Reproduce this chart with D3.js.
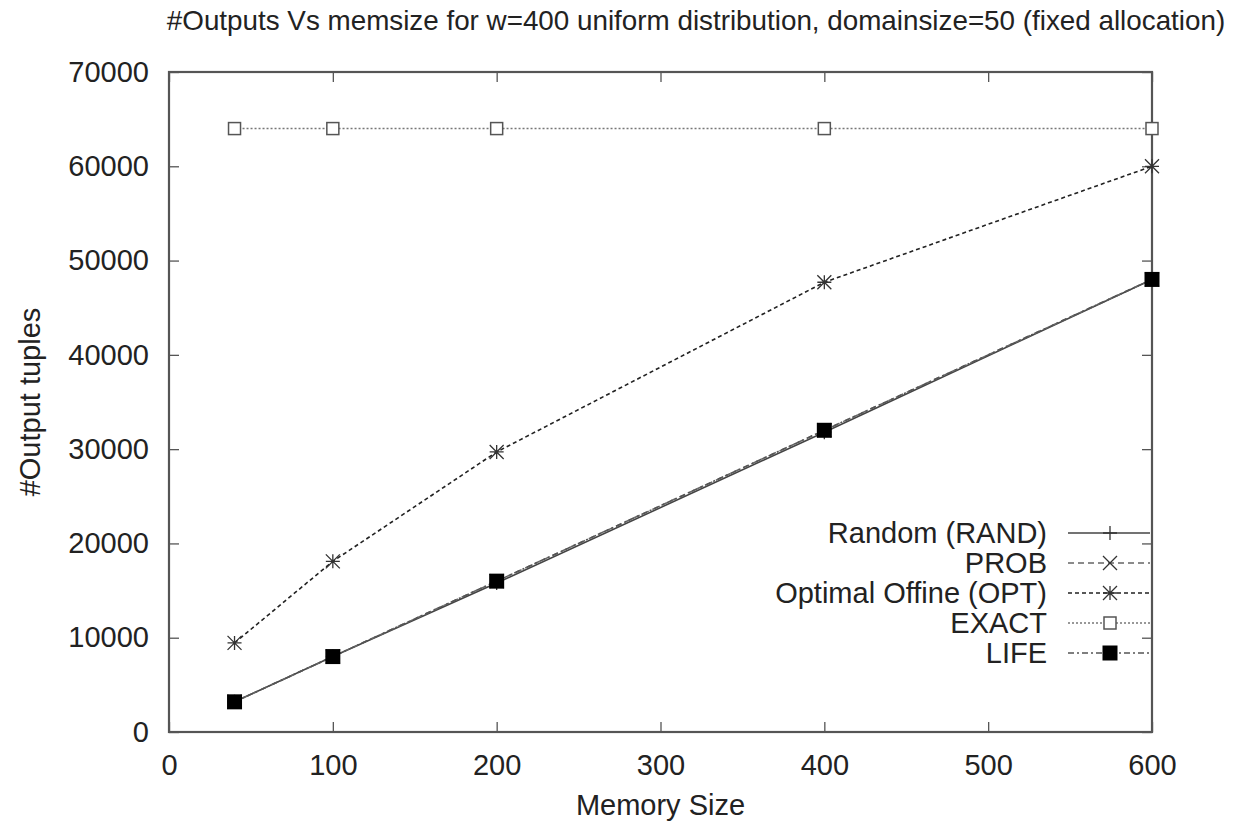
<!DOCTYPE html>
<html>
<head>
<meta charset="utf-8">
<script src="https://cdn.jsdelivr.net/npm/d3@7"></script>
<style>
  body { margin: 0; background: #fff; }
  svg text { font-family: "Liberation Sans", Arial, Helvetica, sans-serif; fill: #222; }
</style>
</head>
<body>
<div class="content"></div>
<script>
(function() {

  // Data
  var memSizes = [40, 100, 200, 400, 600];
  var randValues = [3200, 8000, 15800, 31800, 48000];
  var probValues = [3200, 8000, 16000, 32000, 48000];
  var optValues = [9450, 18100, 29700, 47700, 60000];
  var exactValues = [64000, 64000, 64000, 64000, 64000];
  var lifeValues = [3200, 8000, 16000, 32000, 48000];

  var seriesNames = ['Random (RAND)', 'PROB', 'Optimal Offine (OPT)', 'EXACT', 'LIFE'];
  var xTicks = [0, 100, 200, 300, 400, 500, 600];
  var yTicks = [0, 10000, 20000, 30000, 40000, 50000, 60000, 70000];

  var titleText = '#Outputs Vs memsize for w=400 uniform distribution, domainsize=50 (fixed allocation)';

  // Design Variables
  var width = 1237;
  var height = 822;
  var margin = {top: 72, right: 85, bottom: 90, left: 169};
  var tickLen = 10;

  var styles = [
    {dash: null, color: '#444', marker: 'plus'},
    {dash: '6,4', color: '#666', marker: 'cross'},
    {dash: '4,3', color: '#222', marker: 'star'},
    {dash: '2,2', color: '#777', marker: 'square'},
    {dash: '6,3,2,3', color: '#555', marker: 'filled'}
  ];

  var series = [randValues, probValues, optValues, exactValues, lifeValues].map(function(vals, i) {
    return {
      name: seriesNames[i],
      style: styles[i],
      points: memSizes.map(function(m, j) { return {x: m, y: vals[j]}; })
    };
  });

  // Scales
  var x = d3.scaleLinear()
    .domain([0, 600])
    .range([margin.left, width - margin.right]);

  var y = d3.scaleLinear()
    .domain([0, 70000])
    .range([height - margin.bottom, margin.top]);

  var svg = d3.select(".content").append("svg")
    .attr("width", width)
    .attr("height", height);

  // Title
  svg.append("text")
    .attr("x", 696)
    .attr("y", 30)
    .attr("text-anchor", "middle")
    .style("font-size", "27.8px")
    .text(titleText);

  // Axes with inward ticks
  var axisColor = '#555';

  var bottomAxis = svg.append("g")
    .attr("transform", "translate(0," + y(0) + ")")
    .call(d3.axisBottom(x).tickValues(xTicks).tickSize(-tickLen).tickPadding(tickLen + 12));

  var topAxis = svg.append("g")
    .attr("transform", "translate(0," + y(70000) + ")")
    .call(d3.axisTop(x).tickValues(xTicks).tickSize(-tickLen).tickFormat(""));

  var leftAxis = svg.append("g")
    .attr("transform", "translate(" + x(0) + ",0)")
    .call(d3.axisLeft(y).tickValues(yTicks).tickSize(-tickLen).tickPadding(tickLen + 10).tickFormat(d3.format("d")));

  var rightAxis = svg.append("g")
    .attr("transform", "translate(" + x(600) + ",0)")
    .call(d3.axisRight(y).tickValues(yTicks).tickSize(-tickLen).tickFormat(""));

  [bottomAxis, topAxis, leftAxis, rightAxis].forEach(function(a) {
    a.select(".domain").remove();
    a.selectAll(".tick line").attr("stroke", axisColor).attr("stroke-width", 1.3);
    a.selectAll(".tick text")
      .style("font-size", "29px")
      .style("font-family", '"Liberation Sans", Arial, sans-serif')
      .attr("fill", "#222");
  });

  // Frame
  svg.append("rect")
    .attr("x", x(0))
    .attr("y", y(70000))
    .attr("width", x(600) - x(0))
    .attr("height", y(0) - y(70000))
    .attr("fill", "none")
    .attr("stroke", axisColor)
    .attr("stroke-width", 2.2);

  // Axis labels
  svg.append("text")
    .attr("x", (x(0) + x(600)) / 2)
    .attr("y", 815)
    .attr("text-anchor", "middle")
    .style("font-size", "29px")
    .text("Memory Size");

  svg.append("text")
    .attr("transform", "translate(40," + ((y(0) + y(70000)) / 2) + ") rotate(-90)")
    .attr("text-anchor", "middle")
    .style("font-size", "29px")
    .text("#Output tuples");

  // Markers
  function drawMarker(g, type, cx, cy, color) {
    var s = 7;
    if (type === 'plus') {
      g.append("path")
        .attr("d", "M" + (cx - s) + "," + cy + "H" + (cx + s) + "M" + cx + "," + (cy - s) + "V" + (cy + s))
        .attr("stroke", color).attr("stroke-width", 1.3).attr("fill", "none");
    } else if (type === 'cross') {
      g.append("path")
        .attr("d", "M" + (cx - s) + "," + (cy - s) + "L" + (cx + s) + "," + (cy + s) + "M" + (cx - s) + "," + (cy + s) + "L" + (cx + s) + "," + (cy - s))
        .attr("stroke", color).attr("stroke-width", 1.3).attr("fill", "none");
    } else if (type === 'star') {
      g.append("path")
        .attr("d", "M" + (cx - s) + "," + cy + "H" + (cx + s) + "M" + cx + "," + (cy - s) + "V" + (cy + s) +
          "M" + (cx - s) + "," + (cy - s) + "L" + (cx + s) + "," + (cy + s) + "M" + (cx - s) + "," + (cy + s) + "L" + (cx + s) + "," + (cy - s))
        .attr("stroke", color).attr("stroke-width", 1.3).attr("fill", "none");
    } else if (type === 'square') {
      g.append("rect")
        .attr("x", cx - 6).attr("y", cy - 6).attr("width", 12).attr("height", 12)
        .attr("fill", "#fff").attr("stroke", "#555").attr("stroke-width", 1.5);
    } else if (type === 'filled') {
      g.append("rect")
        .attr("x", cx - 7.5).attr("y", cy - 7.5).attr("width", 15).attr("height", 15)
        .attr("fill", "#000");
    }
  }

  var line = d3.line()
    .x(function(d) { return x(d.x); })
    .y(function(d) { return y(d.y); });

  var plot = svg.append("g").attr("class", "series");

  series.forEach(function(s) {
    var g = plot.append("g");
    g.append("path")
      .datum(s.points)
      .attr("d", line)
      .attr("fill", "none")
      .attr("stroke", s.style.color)
      .attr("stroke-width", 1.6)
      .attr("stroke-dasharray", s.style.dash);
    s.points.forEach(function(p) {
      drawMarker(g, s.style.marker, x(p.x), y(p.y), s.style.color === '#777' ? '#555' : '#333');
    });
  });

  // Legend
  var legendRowY = [533, 563, 593, 623, 653];
  var legend = svg.append("g").attr("class", "legend");
  series.forEach(function(s, i) {
    var ly = legendRowY[i];
    legend.append("text")
      .attr("x", 1047)
      .attr("y", ly)
      .attr("dy", "0.35em")
      .attr("text-anchor", "end")
      .style("font-size", "29px")
      .text(s.name);
    legend.append("line")
      .attr("x1", 1068).attr("x2", 1150)
      .attr("y1", ly).attr("y2", ly)
      .attr("stroke", s.style.color)
      .attr("stroke-width", 1.6)
      .attr("stroke-dasharray", s.style.dash);
    drawMarker(legend, s.style.marker, 1110, ly, '#333');
  });

})();
</script>
</body>
</html>
